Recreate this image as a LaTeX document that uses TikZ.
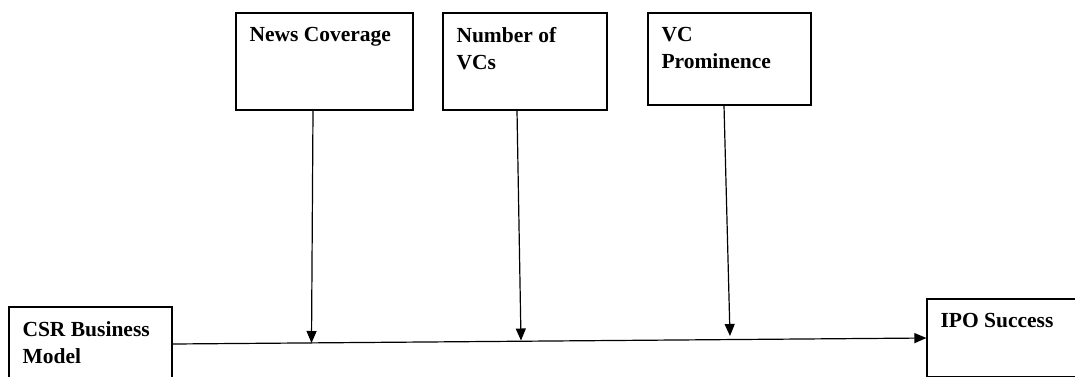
\documentclass[tikz,border=0pt]{standalone}
\usepackage{fontspec}
\setmainfont{Liberation Serif}
\usetikzlibrary{arrows.meta}

\begin{document}
\begin{tikzpicture}[x=1pt, y=-1pt, every node/.style={draw, rectangle, line width=1.2pt, inner sep=0pt}, every label/.style={draw=none, align=left, inner sep=0pt, xshift=13.5pt, yshift=-14.5pt, font=\bfseries\fontsize{21.5}{27}\selectfont}, arr/.style={-{Triangle[length=12pt, width=10pt]}, line width=1.2pt}]
				\clip (0,0) rectangle (1075,376);
				\node (news) at (324.5,61.5) [minimum width=177pt, minimum height=97pt, label={[anchor=north west]north west:News Coverage}] {};
				\node (novc) at (525,61.5) [minimum width=164pt, minimum height=97pt, label={[anchor=north west]north west:Number of\\VCs}] {};
				\node (vcprom) at (729.5,59) [minimum width=163pt, minimum height=92pt, label={[anchor=north west]north west:VC\\Prominence}] {};
				\node (csr) at (90.5,344) [minimum width=163pt, minimum height=74pt, label={[anchor=north west]north west:CSR Business\\Model}] {};
				\node (ipo) at (1017,338) [minimum width=180pt, minimum height=78pt, label={[anchor=north west]north west:IPO Success}] {};
				
				\coordinate (hitnews) at (311.5,343);
				\coordinate (hitnovc) at (521,340.5);
				\coordinate (hitvc) at (730,336);
				
				\draw[arr] (csr.east) -- (ipo.west);
				\draw[arr] ([xshift=-11.5pt]news.south) -- (hitnews);
				\draw[arr] ([xshift=-8pt]novc.south) -- (hitnovc);
				\draw[arr] ([xshift=-5.5pt]vcprom.south) -- (hitvc);
			\end{tikzpicture}
\end{document}
